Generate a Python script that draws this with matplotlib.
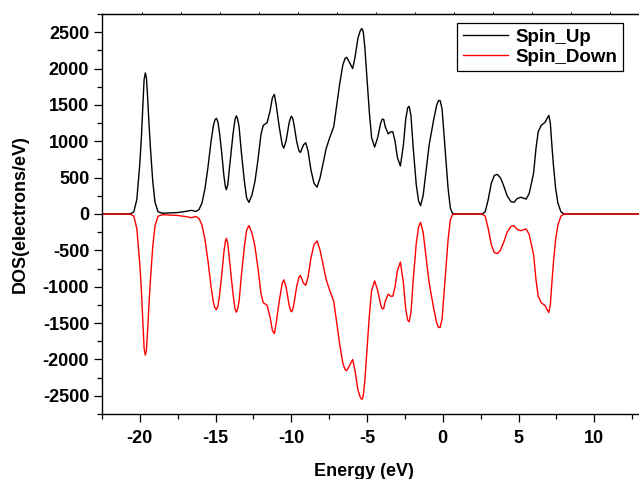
import numpy as np
import matplotlib
matplotlib.use("Agg")
import matplotlib.pyplot as plt
from matplotlib.ticker import MultipleLocator

plt.rcParams['font.family'] = ['Liberation Sans', 'DejaVu Sans']
plt.rcParams['font.weight'] = 'bold'
plt.rcParams['axes.unicode_minus'] = False

# energy grid (eV)
energy = [-23.0, -21.0, -20.6, -20.4, -20.2, -20.0, -19.9, -19.8, -19.72, -19.64,
          -19.57, -19.5, -19.4, -19.3, -19.15, -19.0, -18.8, -18.5, -18.0, -17.5,
          -17.0, -16.6, -16.3, -16.1, -15.9, -15.7, -15.5, -15.3, -15.15, -15.05,
          -14.95, -14.85, -14.75, -14.6, -14.45, -14.35, -14.29, -14.2, -14.05, -13.85,
          -13.72, -13.63, -13.55, -13.45, -13.3, -13.1, -12.95, -12.8, -12.6, -12.4,
          -12.2, -12.0, -11.85, -11.6, -11.4, -11.25, -11.12, -11.0, -10.8, -10.6,
          -10.5, -10.35, -10.15, -10.05, -9.99, -9.9, -9.8, -9.65, -9.5, -9.4,
          -9.2, -9.05, -8.9, -8.7, -8.5, -8.3, -8.1, -7.9, -7.7, -7.45,
          -7.2, -7.0, -6.8, -6.6, -6.45, -6.35, -6.2, -5.95, -5.8, -5.6,
          -5.45, -5.38, -5.32, -5.25, -5.15, -5.0, -4.85, -4.7, -4.5, -4.3,
          -4.1, -4.0, -3.9, -3.8, -3.6, -3.45, -3.3, -3.15, -3.0, -2.8,
          -2.6, -2.45, -2.32, -2.22, -2.1, -1.95, -1.75, -1.6, -1.47, -1.3,
          -1.1, -0.9, -0.6, -0.4, -0.28, -0.18, -0.05, 0.15, 0.35, 0.5,
          0.65, 1.0, 2.6, 2.8, 3.0, 3.2, 3.4, 3.6, 3.8, 4.0,
          4.25, 4.5, 4.7, 4.9, 5.15, 5.3, 5.5, 5.7, 5.85, 6.0,
          6.15, 6.3, 6.5, 6.75, 6.9, 7.0, 7.1, 7.2, 7.3, 7.45,
          7.6, 7.8, 8.0, 14.0]

spin_up = [0, 0, 5, 30, 200, 700, 1050, 1500, 1850, 1940,
           1880, 1650, 1250, 900, 450, 160, 30, 10, 15, 20,
           35, 50, 35, 60, 150, 350, 650, 1000, 1210, 1290,
           1315, 1270, 1130, 850, 520, 370, 335, 400, 700, 1100,
           1300, 1350, 1310, 1200, 850, 450, 220, 160, 260, 450,
           750, 1100, 1220, 1255, 1420, 1600, 1645, 1500, 1200, 950,
           905, 1000, 1250, 1325, 1345, 1310, 1200, 1000, 870, 845,
           950, 980, 870, 600, 420, 370, 500, 700, 900, 1060,
           1200, 1500, 1800, 2050, 2140, 2155, 2100, 2000, 2150, 2420,
           2520, 2545, 2545, 2500, 2300, 1840, 1400, 1050, 920, 1050,
           1250, 1305, 1300, 1200, 1100, 1130, 1130, 1000, 780, 660,
           950, 1300, 1460, 1480, 1350, 900, 400, 180, 115, 250,
           600, 950, 1300, 1500, 1560, 1560, 1450, 900, 350, 80,
           5, 0, 0, 30, 200, 420, 530, 545, 500, 400,
           250, 170, 160, 210, 230, 220, 205, 280, 420, 570,
           900, 1130, 1220, 1260, 1320, 1355, 1250, 950, 680, 350,
           150, 30, 0, 0]

spin_down = [0, 0, -5, -30, -200, -700, -1050, -1500, -1850, -1940,
             -1880, -1650, -1250, -900, -450, -160, -30, -10, -15, -20,
             -35, -50, -35, -60, -150, -350, -650, -1000, -1210, -1290,
             -1315, -1270, -1130, -850, -520, -370, -335, -400, -700, -1100,
             -1300, -1350, -1310, -1200, -850, -450, -220, -160, -260, -450,
             -750, -1100, -1220, -1255, -1420, -1600, -1645, -1500, -1200, -950,
             -905, -1000, -1250, -1325, -1345, -1310, -1200, -1000, -870, -845,
             -950, -980, -870, -600, -420, -370, -500, -700, -900, -1060,
             -1200, -1500, -1800, -2050, -2140, -2155, -2100, -2000, -2150, -2420,
             -2520, -2545, -2545, -2500, -2300, -1840, -1400, -1050, -920, -1050,
             -1250, -1305, -1300, -1200, -1100, -1130, -1130, -1000, -780, -660,
             -950, -1300, -1460, -1480, -1350, -900, -400, -180, -115, -250,
             -600, -950, -1300, -1500, -1560, -1560, -1450, -900, -350, -80,
             -5, 0, 0, -30, -200, -420, -530, -545, -500, -400,
             -250, -170, -160, -210, -230, -220, -205, -280, -420, -570,
             -900, -1130, -1220, -1260, -1320, -1355, -1250, -950, -680, -350,
             -150, -30, 0, 0]

fig = plt.figure(figsize=(6.39, 4.79), dpi=100)
ax = fig.add_axes([102/639, 1 - 414/479, 537.7/639, 400/479])

ax.plot(energy, spin_up, color="black", lw=1.0, label="Spin_Up")
ax.plot(energy, spin_down, color="red", lw=1.0, label="Spin_Down")

ax.set_xlim(-22.5, 13)
ax.set_ylim(-2750, 2750)

ax.xaxis.set_major_locator(MultipleLocator(5))
ax.xaxis.set_minor_locator(MultipleLocator(2.5))
ax.yaxis.set_major_locator(MultipleLocator(500))
ax.yaxis.set_minor_locator(MultipleLocator(250))

ax.tick_params(which="major", direction="out", length=5.8, width=0.9, labelsize=13)
ax.tick_params(which="minor", direction="out", length=3.6, width=0.9)
ax.tick_params(axis="x", which="major", pad=6)
ax.tick_params(axis="y", which="major", pad=3.4)
for lbl in ax.get_xticklabels() + ax.get_yticklabels():
    lbl.set_fontweight("bold")

# the little marks on the top frame
top = ax.secondary_xaxis("top")
top.set_xticks([-19.85 + 2.576 * k for k in range(13)])
top.tick_params(direction="out", length=1.2, width=0.7, labeltop=False)
top.set_xticklabels([])

for s in ax.spines.values():
    s.set_linewidth(1.0)
ax.spines["right"].set_visible(False)

fig.text(364/639, 1 - 471/479, "Energy (eV)", ha="center", va="center",
         fontsize=13, fontweight="bold")
fig.text(20.5/639, 1 - 214/479, "DOS(electrons/eV)", ha="center", va="center",
         rotation=90, fontsize=13, fontweight="bold")

leg = ax.legend(loc="upper right", bbox_to_anchor=(623/639, 1 - 23/479),
                bbox_transform=fig.transFigure, fancybox=False, framealpha=1,
                edgecolor="black", prop={"weight": "bold", "size": 13.5},
                handlelength=2.4, handletextpad=0.4, borderpad=0.3,
                labelspacing=0.15, borderaxespad=0)
leg.get_frame().set_linewidth(0.9)

fig.savefig("out.png", dpi=100)
